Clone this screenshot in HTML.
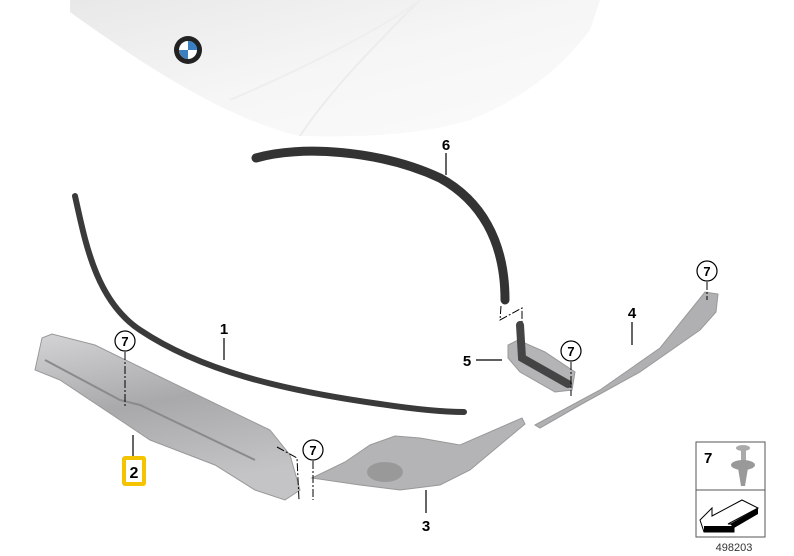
<!DOCTYPE html>
<html><head><meta charset="utf-8"><style>
html,body{margin:0;padding:0;background:#fff;}
svg{display:block;font-family:"Liberation Sans",Arial,sans-serif;}
</style></head><body>
<svg width="794" height="556" viewBox="0 0 794 556" xmlns="http://www.w3.org/2000/svg">
<defs>
<linearGradient id="hood" x1="0" y1="0" x2="1" y2="1">
<stop offset="0" stop-color="#e8e8e8"/><stop offset="0.5" stop-color="#f6f6f6"/><stop offset="1" stop-color="#fbfbfb"/>
</linearGradient>
<linearGradient id="metal" x1="0" y1="0" x2="0.3" y2="1">
<stop offset="0" stop-color="#d4d4d6"/><stop offset="0.5" stop-color="#a9a9ac"/><stop offset="1" stop-color="#c4c4c6"/>
</linearGradient>
</defs>
<path d="M70 0 L600 0 L590 30 C560 70 520 100 470 120 C430 132 380 138 300 136 C230 120 150 70 70 12 Z" fill="url(#hood)"/>
<path d="M300 136 C330 90 380 40 420 0" stroke="#ececec" stroke-width="2" fill="none"/>
<path d="M230 100 C300 70 380 30 420 0" stroke="#eeeeee" stroke-width="2" fill="none"/>
<circle cx="188" cy="50" r="14" fill="#222"/>
<circle cx="188" cy="50" r="9" fill="#fff"/>
<path d="M188 41 A9 9 0 0 1 197 50 L188 50 Z" fill="#3a7fc0"/>
<path d="M188 59 A9 9 0 0 1 179 50 L188 50 Z" fill="#3a7fc0"/>
<!-- part 6 -->
<path d="M256 158 C300 145 380 150 440 178 C480 200 505 240 505 300" stroke="#333" stroke-width="9" fill="none" stroke-linecap="round"/>
<!-- part 1 -->
<path d="M75 196 C85 240 95 300 140 330 C200 370 280 390 380 404 C420 410 445 412 464 412" stroke="#3a3a3a" stroke-width="6" fill="none" stroke-linecap="round"/>
<!-- part 2 -->
<path d="M42 338 L52 334 L95 345 L150 372 L270 430 L290 455 L300 490 L285 500 L255 490 L215 465 L150 440 L120 420 L60 380 L35 370 Z" fill="url(#metal)" stroke="#999" stroke-width="1"/>
<path d="M45 360 L120 400 L140 405 L255 460" stroke="#8a8a8c" stroke-width="2" fill="none"/>
<!-- part 3 -->
<path d="M312 478 L345 462 L370 445 L395 436 L420 438 L460 445 L522 418 L525 424 L470 470 L440 485 L400 490 L360 485 Z" fill="#b4b4b6" stroke="#999"/>
<ellipse cx="385" cy="472" rx="18" ry="10" fill="#999"/>
<!-- part 4 -->
<path d="M535 425 L600 390 L660 348 L705 292 L718 294 L716 312 L700 330 L640 372 L580 405 L540 428 Z" fill="#b0b0b2" stroke="#999"/>
<!-- part 5 -->
<path d="M508 345 L518 340 L545 352 L575 372 L572 390 L555 392 L520 372 L508 358 Z" fill="#b4b4b6" stroke="#999"/>
<path d="M520 325 L522 358 L568 384" stroke="#444" stroke-width="8" fill="none" stroke-linecap="round"/>
<!-- leader lines -->
<g stroke="#000" stroke-width="1.2" fill="none">
<line x1="224" y1="338" x2="224" y2="360"/>
<line x1="446" y1="153" x2="446" y2="175"/>
<line x1="632" y1="322" x2="632" y2="345"/>
<line x1="476" y1="360" x2="502" y2="360"/>
<line x1="426" y1="490" x2="426" y2="513"/>
<line x1="133" y1="435" x2="133" y2="456"/>
</g>
<g stroke="#000" stroke-width="1" fill="none" stroke-dasharray="8 2 2 2">
<line x1="125" y1="352" x2="125" y2="406"/>
<line x1="707" y1="282" x2="707" y2="300"/>
<line x1="571" y1="362" x2="571" y2="396"/>
<line x1="313" y1="461" x2="313" y2="500"/>
<path d="M277 447 L297 458 L299 500"/>
<path d="M501 306 L500 320 L522 308 L522 322"/>
</g>
<g fill="#fff" stroke="#000" stroke-width="1.2">
<circle cx="125" cy="341" r="10"/><circle cx="707" cy="271" r="10"/>
<circle cx="571" cy="351" r="10"/><circle cx="313" cy="450" r="10"/>
</g>
<g font-size="13" font-weight="bold" text-anchor="middle">
<text x="125" y="346">7</text><text x="707" y="276">7</text>
<text x="571" y="356">7</text><text x="313" y="455">7</text>
</g>
<g font-size="15" font-weight="bold" text-anchor="middle">
<text x="224" y="334">1</text><text x="446" y="150">6</text>
<text x="632" y="318">4</text><text x="467" y="366">5</text>
<text x="426" y="531">3</text>
</g>
<rect x="122" y="456" width="24" height="30" rx="3" fill="#f5c400"/>
<rect x="126" y="460" width="16" height="22" fill="#fff"/>
<text x="134" y="478" font-size="16" font-weight="bold" text-anchor="middle">2</text>
<rect x="696" y="442" width="69" height="95" fill="#fff" stroke="#555"/>
<line x1="696" y1="490" x2="765" y2="490" stroke="#555"/>
<text x="704" y="463" font-size="15" font-weight="bold">7</text>
<rect x="741" y="447" width="5" height="14" fill="#aaa"/>
<ellipse cx="743" cy="448" rx="7" ry="3" fill="#aaa"/>
<ellipse cx="743" cy="465" rx="12" ry="5" fill="#999"/>
<path d="M738 468 L748 468 L745 486 L741 486 Z" fill="#999"/>
<path d="M700 520 L712 508 L712 516 L742 500 L758 508 L728 524 L734 524 L734 532 L704 532 Z" fill="#fff" stroke="#000"/>
<rect x="704" y="526" width="30" height="6" fill="#000"/>
<path d="M730 524 L758 508 L758 514 L734 528 Z" fill="#000"/>
<text x="734" y="551" font-size="11" fill="#333" text-anchor="middle">498203</text>
</svg>
</body></html>
